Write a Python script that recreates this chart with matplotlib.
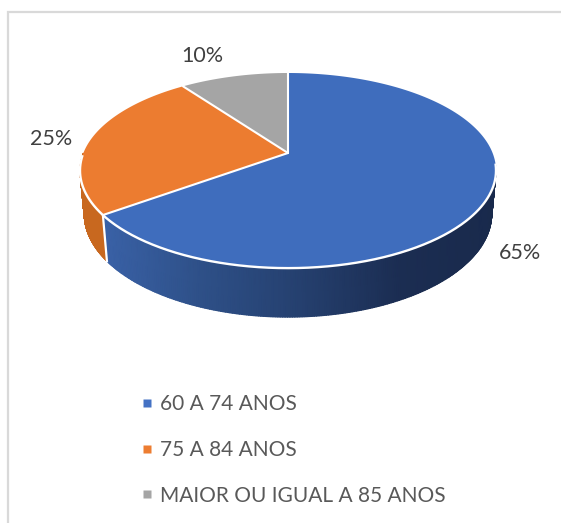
import numpy as np
import matplotlib
matplotlib.use("Agg")
import matplotlib.pyplot as plt
from matplotlib.colors import LinearSegmentedColormap, Normalize
from matplotlib.lines import Line2D
from matplotlib.patches import Polygon

categories = ["60 A 74 ANOS", "75 A 84 ANOS", "MAIOR OU IGUAL A 85 ANOS"]
values = [65, 25, 10]
colors = ["#4472C4", "#ED7D31", "#A5A5A5"]
top_colors = ["#3F6DBD", "#EC7C30", "#A5A5A5"]
text_color = "#595959"
label_positions = [(520, 253), (51, 139), (202, 56)]

plt.rcParams["font.family"] = ["Lato", "DejaVu Sans"]
W, H = 561, 523
fig = plt.figure(figsize=(W / 100, H / 100), dpi=100)
ax = fig.add_axes([0, 0, 1, 1])
ax.set_xlim(0, W)
ax.set_ylim(H, 0)
ax.axis("off")

CX, CY, RX, RY, K, DZ = 288, 153, 204.6, 94.4, 0.18, 43.5


def project(t, z=0.0):
    """Perspective projection of a circle point (clockwise angle from top)."""
    X, Y = np.sin(t), np.cos(t)
    w = 1 + K * Y + 0.02 * z
    return CX + X * RX / w, CY - (Y * RY - z * DZ) / w


# chart frame: top and left edges only
ax.plot([8, 8, W], [H, 12, 12], color="#D9D9D9", lw=1.6, zorder=1, solid_joinstyle="miter")

bounds = np.cumsum([0] + values) / sum(values) * 2 * np.pi

# side wall: only the part of each slice facing the viewer
norm = Normalize(0, W)
cmaps = [
    LinearSegmentedColormap.from_list("blue", [(0, "#3A62A8"), (100 / W, "#3A62A8"), (200 / W, "#2E5088"),
                                               (300 / W, "#25406F"), (400 / W, "#1B2D52"), (1, "#182848")]),
    LinearSegmentedColormap.from_list("orange", ["#C8691F", "#C8651E"]),
    None,
]
for i, cmap in enumerate(cmaps):
    if cmap is None:
        continue
    lo = max(bounds[i], np.radians(97))
    hi = min(bounds[i + 1], np.radians(270))
    ts = np.linspace(lo, hi, 240)
    xt, yt = project(ts)
    xb, yb = project(ts, 1)
    mx = np.vstack([xt, xb])
    my = np.vstack([yt, yb])
    ax.pcolormesh(mx, my, mx, cmap=cmap, norm=norm, shading="gouraud", zorder=2)

# wall separator
x0, y0 = project(bounds[1])
x1, y1 = project(bounds[1], 1)
ax.plot([x0, x1], [y0, y1], color="white", lw=1.6, zorder=3)

# top faces
handles = []
for i in range(len(values)):
    ts = np.linspace(bounds[i], bounds[i + 1], 200)
    x, y = project(ts)
    pts = np.column_stack([np.r_[CX, x], np.r_[CY, y]])
    ax.add_patch(Polygon(pts, closed=True, fc=top_colors[i], ec="none", zorder=4))
    handles.append(Line2D([], [], ls="", marker="s", ms=5.5, mfc=colors[i], mec="none", label=categories[i]))

# white separators between slices and the bright front rim
for b in bounds[:-1]:
    x, y = project(b)
    ax.plot([CX, x], [CY, y], color="white", lw=1.5, zorder=5, solid_capstyle="round")
ts = np.linspace(np.radians(97), np.radians(268), 300)
x, y = project(ts)
ax.plot(x, y, color="white", lw=1.7, zorder=5)

# percentage labels
total = sum(values)
for v, (lx, ly) in zip(values, label_positions):
    ax.text(lx, ly, f"{round(100 * v / total)}%", color="#404040", fontsize=15.5,
            ha="center", va="center", zorder=6)

leg = ax.legend(handles=handles, loc="upper left", bbox_to_anchor=(133 / W, 1 - 394 / H),
                frameon=False, fontsize=15, labelcolor=text_color, labelspacing=1.24,
                handletextpad=0.0, handlelength=1.3, borderpad=0, borderaxespad=0)

fig.savefig("out.png", dpi=100, facecolor="white")
